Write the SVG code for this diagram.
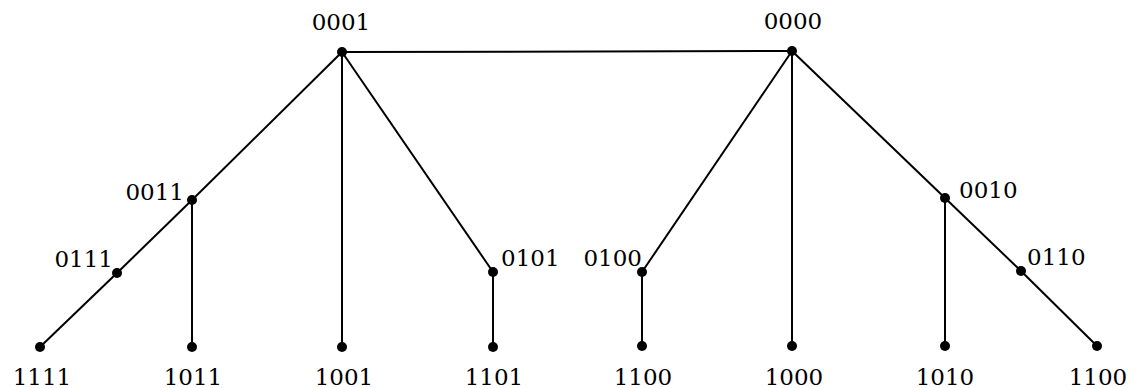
<svg xmlns="http://www.w3.org/2000/svg" width="1137" height="388" viewBox="0 0 1137 388">
<style>
.e{stroke:#000;stroke-width:2;fill:none}
.n{fill:#000}
text{font-family:"DejaVu Serif","Liberation Serif",serif;font-size:23px;fill:#000}
.m{text-anchor:middle}
.r{text-anchor:end}
</style>
<rect width="1137" height="388" fill="#fff"/>
<g id="connectors">
<line class="e" x1="342" y1="52" x2="792" y2="51"/>
<line class="e" x1="342" y1="52" x2="192" y2="200"/>
<line class="e" x1="192" y1="200" x2="117" y2="273"/>
<line class="e" x1="117" y1="273" x2="40" y2="347"/>
<line class="e" x1="192" y1="200" x2="192" y2="347"/>
<line class="e" x1="342" y1="52" x2="342" y2="347"/>
<line class="e" x1="342" y1="52" x2="493" y2="272"/>
<line class="e" x1="493" y1="272" x2="493" y2="347"/>
<line class="e" x1="792" y1="51" x2="642" y2="272"/>
<line class="e" x1="642" y1="272" x2="642" y2="346"/>
<line class="e" x1="792" y1="51" x2="792" y2="346"/>
<line class="e" x1="792" y1="51" x2="945" y2="198"/>
<line class="e" x1="945" y1="198" x2="1021" y2="271"/>
<line class="e" x1="1021" y1="271" x2="1097" y2="346"/>
<line class="e" x1="945" y1="198" x2="945" y2="346"/>
</g>
<g id="n0001"><circle class="n" cx="342" cy="52" r="5"/><text class="m" x="341" y="30">0001</text></g>
<g id="n0000"><circle class="n" cx="792" cy="51" r="5"/><text class="m" x="793" y="29">0000</text></g>
<g id="n0011"><circle class="n" cx="192" cy="200" r="5"/><text class="r" x="184" y="200">0011</text></g>
<g id="n0111"><circle class="n" cx="117" cy="273" r="5"/><text class="r" x="113" y="267">0111</text></g>
<g id="n0101"><circle class="n" cx="493" cy="272" r="5"/><text x="501" y="266">0101</text></g>
<g id="n0100"><circle class="n" cx="642" cy="272" r="5"/><text class="r" x="642" y="266">0100</text></g>
<g id="n0010"><circle class="n" cx="945" cy="198" r="5"/><text x="959" y="198">0010</text></g>
<g id="n0110"><circle class="n" cx="1021" cy="271" r="5"/><text x="1027" y="265">0110</text></g>
<g id="n1111"><circle class="n" cx="40" cy="347" r="5"/><text class="m" x="42" y="385">1111</text></g>
<g id="n1011"><circle class="n" cx="192" cy="347" r="5"/><text class="m" x="193" y="385">1011</text></g>
<g id="n1001"><circle class="n" cx="342" cy="347" r="5"/><text class="m" x="344" y="385">1001</text></g>
<g id="n1101"><circle class="n" cx="493" cy="347" r="5"/><text class="m" x="494" y="385">1101</text></g>
<g id="n1100a"><circle class="n" cx="642" cy="346" r="5"/><text class="m" x="643" y="385">1100</text></g>
<g id="n1000"><circle class="n" cx="792" cy="346" r="5"/><text class="m" x="794" y="385">1000</text></g>
<g id="n1010"><circle class="n" cx="945" cy="346" r="5"/><text class="m" x="945" y="385">1010</text></g>
<g id="n1100b"><circle class="n" cx="1097" cy="346" r="5"/><text class="m" x="1098" y="385">1100</text></g>
</svg>
